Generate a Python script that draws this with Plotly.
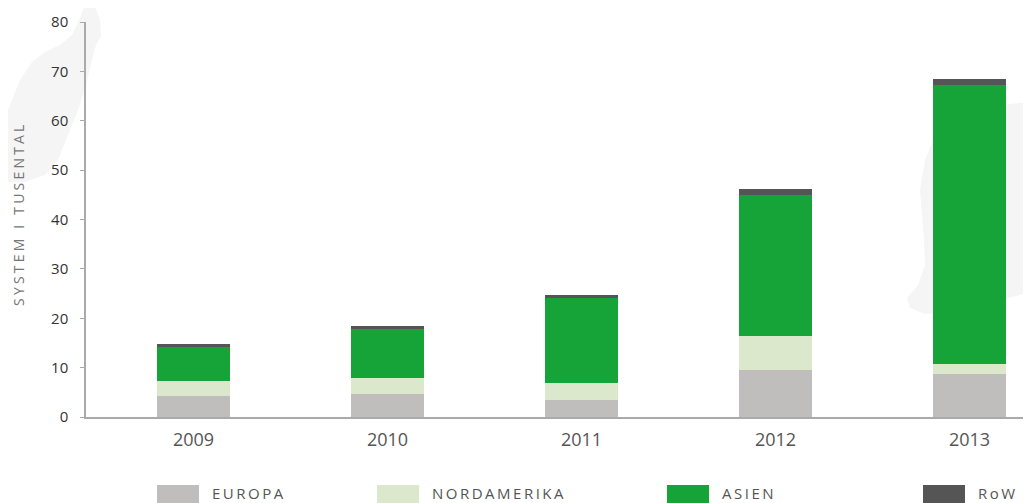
import plotly.graph_objects as go

years = ["2009", "2010", "2011", "2012", "2013"]
europa = [4.3, 4.7, 3.4, 9.5, 8.7]
nordamerika = [3.0, 3.2, 3.5, 6.9, 2.1]
asien = [6.9, 9.9, 17.4, 28.6, 56.5]
row = [0.6, 0.6, 0.4, 1.2, 1.1]

series_names = ["EUROPA", "NORDAMERIKA", "ASIEN", "RoW"]
series_values = [europa, nordamerika, asien, row]
series_colors = ["#bfbebc", "#dbe8cc", "#16a338", "#555555"]

y_ticks = [0, 10, 20, 30, 40, 50, 60, 70, 80]
y_title = "SYSTEM I TUSENTAL"

# page body has an 8px margin; figure sized so that it fills the 1031x503 window
OFF = 8
W, H = 1031 - OFF, 503 - OFF
L, R, T, B = 86 - OFF, 0, 22 - OFF, 86
pw, ph = W - L - R, H - T - B


def px2paper(x, y):
    # x, y in window pixels
    x -= OFF
    y -= OFF
    return (x - L) / pw, (H - B - y) / ph


def blob_path(points):
    pts = [px2paper(x, y) for x, y in points]
    d = "M %f,%f " % pts[0]
    for p in pts[1:]:
        d += "L %f,%f " % p
    return d + "Z"


blob_left = [(86, 2), (95, 6), (100, 20), (101, 36), (96, 45), (92, 60), (86, 85),
             (78, 110), (68, 135), (58, 160), (45, 175), (25, 182), (8, 182),
             (0, 175), (0, 125), (8, 110), (14, 95), (20, 80), (32, 62),
             (45, 52), (60, 45), (72, 35), (80, 18)]
blob_right = [(1031, 102), (1010, 104), (960, 112), (935, 135), (925, 160),
              (920, 190), (922, 215), (924, 240), (925, 265), (918, 285),
              (907, 298), (910, 308), (925, 314), (960, 312), (1000, 300),
              (1020, 295), (1031, 290)]

fig = go.Figure()
for name, vals, col in zip(series_names, series_values, series_colors):
    fig.add_trace(go.Bar(x=years, y=vals, name=name, marker=dict(color=col, line=dict(width=0)),
                         showlegend=False))

shapes = [
    dict(type="path", xref="paper", yref="paper", path=blob_path(blob_left),
         fillcolor="#f5f5f5", line=dict(width=0), layer="below"),
    dict(type="path", xref="paper", yref="paper", path=blob_path(blob_right),
         fillcolor="#f5f5f5", line=dict(width=0), layer="below"),
]
annotations = []

legend_x = [157, 377, 667, 923]
for lx, name, col in zip(legend_x, series_names, series_colors):
    x0, y0 = px2paper(lx, 504)
    x1, y1 = px2paper(lx + 42, 485)
    shapes.append(dict(type="rect", xref="paper", yref="paper", x0=x0, x1=x1, y0=y0, y1=y1,
                       fillcolor=col, line=dict(width=0)))
    tx, ty = px2paper(lx + 54, 493.5)
    annotations.append(dict(xref="paper", yref="paper", x=tx, y=ty, xanchor="left", yanchor="middle",
                            showarrow=False, borderpad=0,
                            text='<span style="letter-spacing:2.5px">%s</span>' % name,
                            font=dict(family="Open Sans", size=15, color="#555555")))

tx, ty = px2paper(18, 214)
annotations.append(dict(xref="paper", yref="paper", x=tx, y=ty, xanchor="center", yanchor="middle",
                        showarrow=False, textangle=-90,
                        text='<span style="letter-spacing:3.2px">%s</span>' % y_title,
                        font=dict(family="Open Sans", size=14, color="#777777")))

fig.update_layout(
    barmode="stack",
    bargap=0.624,
    width=W, height=H,
    margin=dict(l=L, r=R, t=T, b=B, pad=0),
    paper_bgcolor="white", plot_bgcolor="rgba(0,0,0,0)",
    shapes=shapes, annotations=annotations,
    showlegend=False,
    font=dict(family="Open Sans"),
)
fig.update_xaxes(type="category", range=[-0.554, 4.317], showgrid=False, zeroline=False,
                 showline=True, linecolor="#aaaaaa", linewidth=2, ticks="",
                 tickfont=dict(family="Open Sans", size=18, color="#555555"),
                 ticklabelstandoff=5)
fig.update_yaxes(range=[0, 80], tickvals=y_ticks, showgrid=False, zeroline=False,
                 showline=True, linecolor="#aaaaaa", linewidth=1.5, ticks="outside",
                 ticklen=4, tickcolor="#aaaaaa", tickwidth=1,
                 tickfont=dict(family="Open Sans", size=15, color="#333333"),
                 ticklabelstandoff=9)

fig.write_html("out.html")
